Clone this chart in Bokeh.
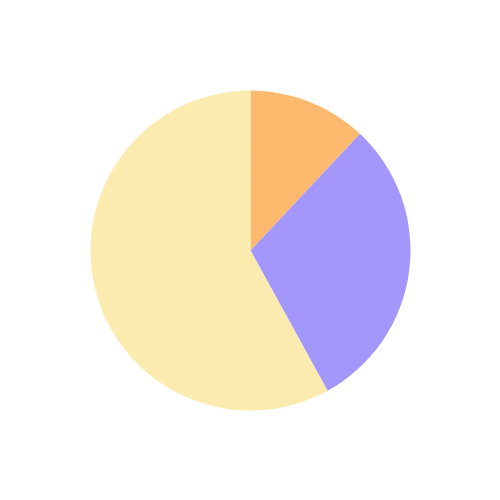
import math
from bokeh.plotting import figure
from bokeh.models import ColumnDataSource
from bokeh.embed import file_html
from bokeh.resources import INLINE

categories = ["A", "B", "C"]
values = [12, 30, 58]
colors = ["#FDBA6E", "#A397FC", "#FCEBAF"]

total = sum(values)
starts, ends = [], []
acc = 0.0
for v in values:
    a0 = math.pi / 2 - 2 * math.pi * acc / total
    acc += v
    a1 = math.pi / 2 - 2 * math.pi * acc / total
    starts.append(a0)
    ends.append(a1)

src = ColumnDataSource(dict(cat=categories, val=values, start=starts, end=ends, color=colors))

p = figure(width=500, height=500, x_range=(-250, 250), y_range=(-250, 250),
           output_backend="svg", toolbar_location=None, min_border=0)
p.wedge(x=0, y=0, radius=160, start_angle="start", end_angle="end",
        direction="clock", fill_color="color", line_color=None, source=src)
p.axis.visible = False
p.grid.visible = False
p.outline_line_color = None
p.background_fill_color = "white"

open("out.html", "w").write(file_html(p, INLINE))
